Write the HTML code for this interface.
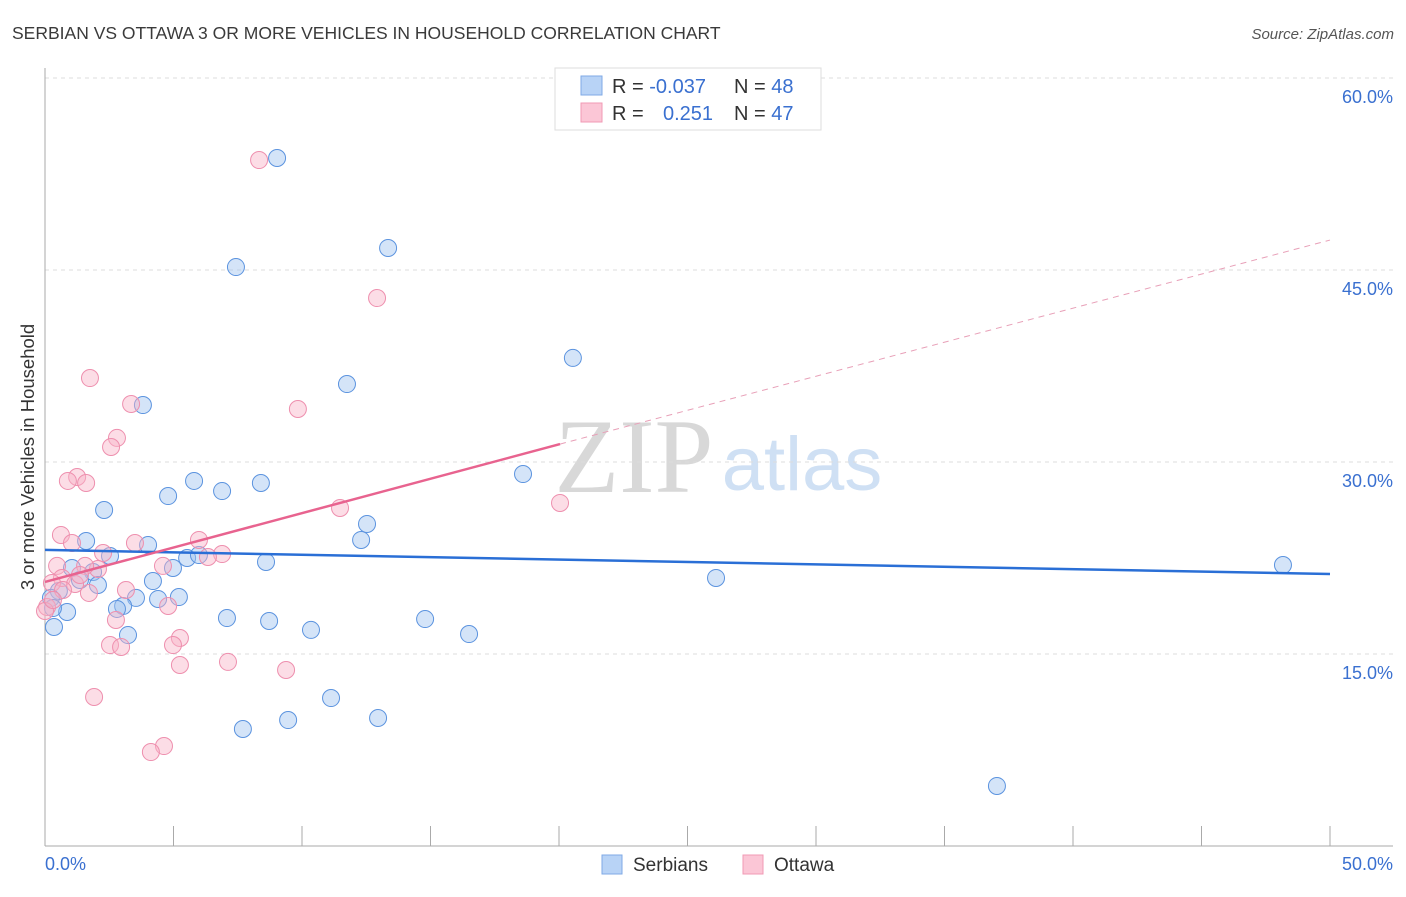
<!DOCTYPE html>
<html><head><meta charset="utf-8"><style>
body{margin:0;background:#fff;font-family:"Liberation Sans",sans-serif}
</style></head><body>
<svg width="1406" height="892" xmlns="http://www.w3.org/2000/svg" font-family="Liberation Sans, sans-serif">
<text x="12" y="39" font-size="17.5" fill="#3a3a3a">SERBIAN VS OTTAWA 3 OR MORE VEHICLES IN HOUSEHOLD CORRELATION CHART</text>
<text x="1394" y="39" font-size="15" fill="#555" font-style="italic" text-anchor="end">Source: ZipAtlas.com</text>
<g>
<text x="634" y="492" font-size="106" fill="#d8d8d8" font-family="Liberation Serif, serif" text-anchor="middle">ZIP</text>
<text x="802" y="490" font-size="76" fill="#cfe0f4" text-anchor="middle">atlas</text>
</g>
<g id="grid"></g>
<g id="axes"></g>
<g id="pts"></g>
<g id="lines"></g>
<g>
<rect x="555" y="68" width="266" height="62" fill="#fff" stroke="#ddd"/>
<rect x="581" y="76" width="21" height="19" fill="#b8d3f6" stroke="#7fa9e6"/>
<rect x="581" y="103" width="21" height="19" fill="#fbc6d6" stroke="#f09ab4"/>
<text x="612" y="93" font-size="20" fill="#333">R = <tspan fill="#3a70d0">-0.037</tspan></text>
<text x="734" y="93" font-size="20" fill="#333">N = <tspan fill="#3a70d0">48</tspan></text>
<text x="612" y="120" font-size="20" fill="#333">R = <tspan fill="#3a70d0" x="663">0.251</tspan></text>
<text x="734" y="120" font-size="20" fill="#333">N = <tspan fill="#3a70d0">47</tspan></text>
</g>
<g>
<rect x="602" y="855" width="20" height="19" fill="#b8d3f6" stroke="#7fa9e6"/>
<text x="633" y="871" font-size="19" fill="#333">Serbians</text>
<rect x="743" y="855" width="20" height="19" fill="#fbc6d6" stroke="#f09ab4"/>
<text x="774" y="871" font-size="19" fill="#333">Ottawa</text>
</g>
<text transform="translate(34,457) rotate(-90)" font-size="18.5" fill="#333" text-anchor="middle">3 or more Vehicles in Household</text>
</svg>
<script>
const yTicks=[15,30,45,60];
const yTickLabels=["15.0%","30.0%","45.0%","60.0%"];
const xTickLabels=["0.0%","50.0%"];
const serbX=[9.03,7.43,13.35,20.54,11.75,3.81,18.6,5.8,4.79,6.89,8.4,2.3,12.53,1.6,12.3,4.01,2.53,5.53,5.99,8.6,4.98,1.05,1.87,4.2,26.11,48.17,1.36,2.06,0.54,0.23,4.4,5.21,3.54,3.04,2.8,0.86,0.31,0.35,7.08,8.72,14.79,10.35,3.23,16.5,11.13,12.96,9.46,7.7,37.04];
const serbY=[53.75,45.23,46.72,38.13,36.09,34.45,29.06,28.52,27.34,27.73,28.36,26.25,25.16,23.83,23.91,23.52,22.66,22.5,22.73,22.19,21.72,21.72,21.41,20.7,20.94,21.95,20.78,20.39,19.92,19.38,19.3,19.45,19.38,18.75,18.52,18.28,18.59,17.11,17.81,17.58,17.73,16.88,16.48,16.56,11.56,10.0,9.84,9.14,4.69];
const ottX=[8.33,12.92,1.75,3.35,9.84,2.8,2.57,1.25,1.6,0.89,11.48,20.04,0.62,1.05,3.5,5.99,2.26,6.89,6.34,4.59,0.47,2.06,1.56,0.66,0.27,1.17,3.15,0.7,1.71,4.79,2.76,0.08,0,5.25,4.98,2.53,2.96,7.12,5.25,9.38,1.91,4.63,4.12,0.31,1.36];
const ottY=[53.59,42.81,36.56,34.53,34.14,31.88,31.17,28.83,28.36,28.52,26.41,26.8,24.3,23.67,23.67,23.91,22.89,22.81,22.58,21.88,21.88,21.64,21.88,20.94,20.55,20.47,20.0,20.0,19.77,18.75,17.66,18.67,18.36,16.25,15.7,15.7,15.55,14.38,14.14,13.75,11.64,7.81,7.34,19.22,21.17];
const serbTrend=[23.13,21.25];
const ottTrend=[20.63,31.4,47.34];
const ottTrendX=[0,20.04,50];
const X=v=>45+v/50*1285, Y=v=>846-v*12.8;
const NS="http://www.w3.org/2000/svg";
function mk(p,t,a){const e=document.createElementNS(NS,t);for(const k in a)e.setAttribute(k,a[k]);p.appendChild(e);return e;}
const grid=document.getElementById('grid'),axes=document.getElementById('axes'),pts=document.getElementById('pts'),lines=document.getElementById('lines');
yTicks.forEach((t,i)=>{
 const l=mk(grid,'line',{x1:45,x2:1393,y1:Y(t),y2:Y(t),stroke:'#ddd','stroke-dasharray':'4,4'});
 
 
 const tx=mk(axes,'text',{x:1393,y:Y(t)+25,'font-size':18,fill:'#3a70d0','text-anchor':'end'});
 tx.textContent=yTickLabels[i];
 
 
});
const ya=mk(axes,'line',{x1:45,x2:45,y1:68,y2:846,stroke:'#aaa'});


const xa=mk(axes,'line',{x1:45,x2:1393,y1:846,y2:846,stroke:'#aaa'});


for(let v=5;v<=50;v+=5){const t=mk(axes,'line',{x1:X(v),x2:X(v),y1:826,y2:846,stroke:'#aaa'});
 
 }
[[0,'start',45],[50,'end',1393]].forEach((d,i)=>{const t=mk(axes,'text',{x:d[2],y:870,'font-size':18,fill:'#3a70d0','text-anchor':d[1]});t.textContent=xTickLabels[i];
 
 });
serbX.forEach((x,i)=>{const c=mk(pts,'circle',{cx:X(x),cy:Y(serbY[i]),r:8.5,fill:'rgba(160,196,240,0.45)',stroke:'#5b93df','stroke-width':1});
 
 });
ottX.forEach((x,i)=>{const c=mk(pts,'circle',{cx:X(x),cy:Y(ottY[i]),r:8.5,fill:'rgba(249,180,200,0.45)',stroke:'#ee8fae','stroke-width':1});
 
 });
const bl=mk(lines,'line',{x1:X(0),y1:Y(serbTrend[0]),x2:X(50),y2:Y(serbTrend[1]),stroke:'#2a6fd6','stroke-width':2.5});


const pl=mk(lines,'line',{x1:X(ottTrendX[0]),y1:Y(ottTrend[0]),x2:X(ottTrendX[1]),y2:Y(ottTrend[1]),stroke:'#e8638f','stroke-width':2.5});


const pd=mk(lines,'line',{x1:X(ottTrendX[1]),y1:Y(ottTrend[1]),x2:X(ottTrendX[2]),y2:Y(ottTrend[2]),stroke:'#e8a0b8','stroke-width':1,'stroke-dasharray':'6,5'});


</script>
</body></html>
